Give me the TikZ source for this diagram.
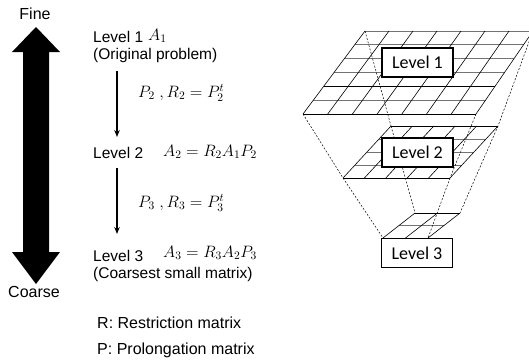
\RequirePackage{fix-cm}
\documentclass[tikz,border=0pt]{standalone}
\usepackage[no-math]{fontspec}
\setmainfont{Liberation Sans}
\newfontfamily\boxfont{Carlito}
\usetikzlibrary{calc,arrows.meta}
\tikzset{
  lbl/.style={anchor=west,inner sep=0pt,font=\fontsize{15.5}{18}\selectfont},
  leg/.style={anchor=west,inner sep=0pt,font=\fontsize{16}{19}\selectfont},
  eqn/.style={anchor=west,inner sep=0pt,font=\fontsize{16.5}{19}\selectfont},
  big/.style={inner sep=0pt,font=\fontsize{16}{19}\selectfont},
  levelbox/.style={draw=black,line width=1.8pt,fill=white,minimum width=71pt,minimum height=29pt,inner sep=0pt,font=\boxfont\fontsize{18}{21}\selectfont},
  diag/.style={draw=black,line width=0.6pt},
  hline/.style={draw=black!55,line width=1pt},
  hedge/.style={draw=black,line width=0.7pt},
  proj/.style={draw=black,line width=0.5pt,dash pattern=on 2pt off 1.6pt},
  down/.style={draw=black,line width=1.3pt,-{Stealth[length=7pt,width=5.5pt]}}
}
\begin{document}
\begin{tikzpicture}[x=1pt,y=-1pt]
\useasboundingbox (0,0) rectangle (529,362);
% big double arrow
\fill[black] (36,27) -- (60,52) -- (49,52) -- (49,252) -- (60,252) -- (36,284)
  -- (12,252) -- (23,252) -- (23,52) -- (12,52) -- cycle;
\node[big] (fine) at (35,14) {Fine};
\node[big] (coarse) at (34,292) {Coarse};
% left texts
\node[lbl] (l1) at (93,37) {Level 1};
\node[eqn] (a1) at (148,36) {$A_1$};
\node[lbl] (op) at (93,55) {(Original problem)};
\coordinate (s1) at (117,71);
\coordinate (t1) at (117,137);
\draw[down] (s1) -- (t1);
\node[eqn] (e1) at (138,93) {$P_2\ ,R_2=P_2^{t}$};
\node[lbl] (l2) at (93,153) {Level 2};
\node[eqn] (a2) at (163,152) {$A_2=R_2A_1P_2$};
\coordinate (s2) at (117,168);
\coordinate (t2) at (117,234);
\draw[down] (s2) -- (t2);
\node[eqn] (e2) at (138,203) {$P_3\ ,R_3=P_3^{t}$};
\node[lbl] (l3) at (93,256) {Level 3};
\node[eqn] (a3) at (163,253) {$A_3=R_3A_2P_3$};
\node[lbl] (cs) at (93,274) {(Coarsest small matrix)};
\node[leg] (lr) at (97,323) {R: Restriction matrix};
\node[leg] (lp) at (97,350) {P: Prolongation matrix};
% grid corners
\coordinate (TL1) at (365,31);  \coordinate (TR1) at (533,31);
\coordinate (BL1) at (303,114); \coordinate (BR1) at (476,114);
\coordinate (TL2) at (391,126); \coordinate (TR2) at (498,126);
\coordinate (BL2) at (343,178); \coordinate (BR2) at (450,178);
\coordinate (TL3) at (415,213); \coordinate (TR3) at (460,213);
\coordinate (BL3) at (383,238); \coordinate (BR3) at (428,238);
\begin{scope}
\clip (0,0) rectangle (529,362);
% level 1 grid 7x6
\foreach \j in {1,2,3,5} \draw[hline] ($(TL1)!\j/6!(BL1)$) -- ($(TR1)!\j/6!(BR1)$);
\draw[hedge] ($(TL1)!4/6!(BL1)$) -- ($(TR1)!4/6!(BR1)$);
\draw[hline] (TL1) -- (TR1);
\draw[hedge] (BL1) -- (BR1);
\foreach \i in {0,...,7} \draw[diag] ($(TL1)!\i/7!(TR1)$) -- ($(BL1)!\i/7!(BR1)$);
% level 2 grid 5x4
\foreach \j in {1,2,3} \draw[hline] ($(TL2)!\j/4!(BL2)$) -- ($(TR2)!\j/4!(BR2)$);
\draw[hedge] (TL2) -- (TR2);
\draw[hedge] (BL2) -- (BR2);
\foreach \i in {0,...,5} \draw[diag] ($(TL2)!\i/5!(TR2)$) -- ($(BL2)!\i/5!(BR2)$);
% level 3 grid 2x2
\draw[hline] ($(TL3)!0.5!(BL3)$) -- ($(TR3)!0.5!(BR3)$);
\draw[hedge] (TL3) -- (TR3);
\draw[hedge] (BL3) -- (BR3);
\foreach \i in {0,1,2} \draw[diag] ($(TL3)!\i/2!(TR3)$) -- ($(BL3)!\i/2!(BR3)$);
% projection lines
\draw[proj] (TL1) -- (TL2);
\draw[proj] (TR1) -- (TR2);
\draw[proj] (BL1) -- (BL2);
\draw[proj] (BR1) -- (BR2);
\draw[proj] (TL2) -- (TL3);
\draw[proj] (TR2) -- (TR3);
\draw[proj] (BL2) -- (BL3);
\draw[proj] (BR2) -- (BR3);
\end{scope}
% level boxes
\node[levelbox] (b1) at (417.5,62.5) {Level 1};
\node[levelbox] (b2) at (417.5,152.5) {Level 2};
\node[levelbox] (b3) at (417,253) {Level 3};
\end{tikzpicture}
\end{document}
